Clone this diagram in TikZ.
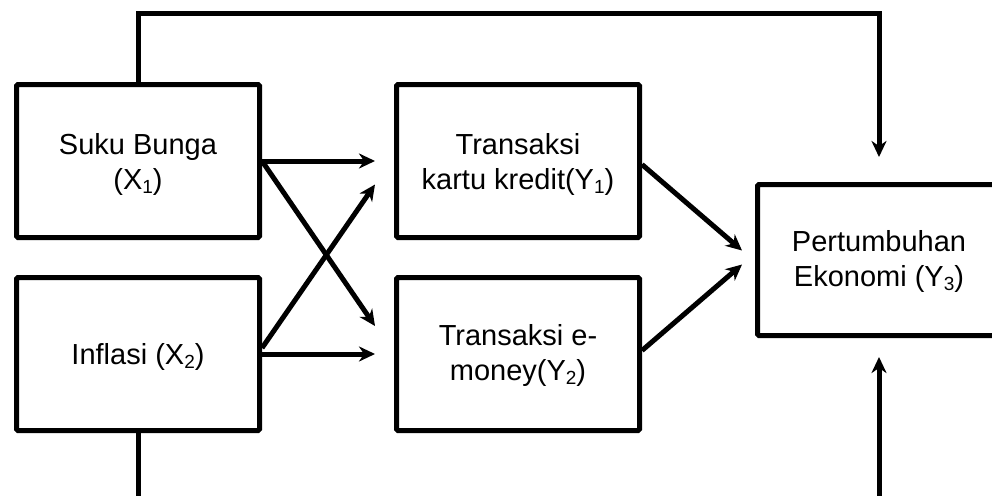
\documentclass[tikz,border=0pt]{standalone}
\usepackage{fontspec}
\setmainfont{Liberation Sans}
\usetikzlibrary{arrows.meta}
\newcommand\subidx[1]{\raisebox{-0.14em}{\fontsize{19}{19}\selectfont #1}}
\begin{document}
\begin{tikzpicture}[x=1pt,y=-1pt,
  box/.style={draw, line width=5pt, rounded corners=1.5pt, minimum width=243pt,
    minimum height=153pt, inner sep=0pt, anchor=north west},
  lbl/.style={font=\fontsize{29}{35}\selectfont, align=center, inner sep=0pt},
  conn/.style={line width=5pt},
  arr/.style={conn, -{Stealth[length=16pt,width=15pt,inset=5pt]}}]
\clip (0,0) rectangle (992,495);
\fill[white] (0,0) rectangle (992,495);
% boxes
\node[box] (suku) at (14,82) {};
\node[box] (infl) at (14,275) {};
\node[box] (kartu) at (394,82) {};
\node[box] (emon) at (394,275) {};
\node[box, minimum height=151pt] (pert) at (755,182) {};
% labels
\node[lbl] (tsuku) at ([yshift=-3pt]suku.center) {Suku Bunga\\(X\subidx{1})};
\node[lbl] (tinfl) at ([yshift=-3pt]infl.center) {Inflasi (X\subidx{2})};
\node[lbl] (tkartu) at ([yshift=-3pt]kartu.center) {Transaksi\\kartu kredit(Y\subidx{1})};
\node[lbl] (temon) at ([yshift=-1pt]emon.center) {Transaksi e-\\money(Y\subidx{2})};
\node[lbl] (tpert) at ([yshift=-1pt]pert.center) {Pertumbuhan\\Ekonomi (Y\subidx{3})};
% arrows between boxes
\draw[arr] (suku.east) -- ([xshift=-19pt]kartu.west);
\draw[arr] (suku.east) -- ([xshift=-19pt,yshift=28pt]emon.west);
\draw[arr] ([yshift=6pt]infl.east) -- ([xshift=-19pt,yshift=-23.5pt]kartu.west);
\draw[arr] (infl.east) -- ([xshift=-19pt]emon.west);
\draw[arr] ([yshift=-3.5pt]kartu.east) -- ([xshift=-13pt,yshift=9.5pt]pert.west);
\draw[arr] ([yshift=3.5pt]emon.east) -- ([xshift=-13pt,yshift=-4.5pt]pert.west);
% top loop
\coordinate (topend) at ([yshift=25pt]pert.north);
\draw[arr] (suku.north) -- ++(0,-68) -| (topend);
% bottom lines
\coordinate (b1) at ([yshift=-90pt]infl.south);
\draw[conn] (infl.south) -- (b1);
\coordinate (b2) at ([yshift=-190pt]pert.south);
\coordinate (botend) at ([yshift=-19pt]pert.south);
\draw[arr] (b2) -- (botend);
\end{tikzpicture}
\end{document}
